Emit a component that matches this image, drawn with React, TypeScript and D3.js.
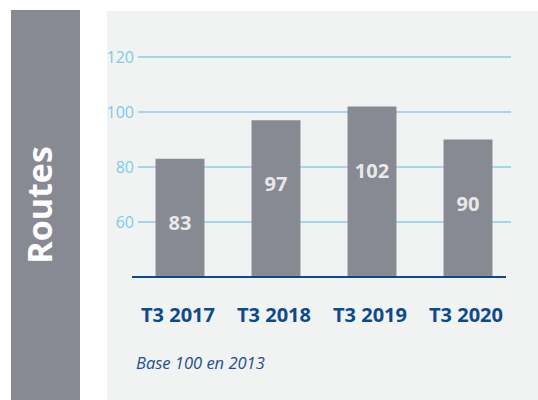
import React from "react";
import * as d3 from "d3";

const categories = ["T3 2017", "T3 2018", "T3 2019", "T3 2020"];
const values = [83, 97, 102, 90];
const ticks = [60, 80, 100, 120];

const W = 538, H = 400;
const FONT = "'Open Sans', 'DejaVu Sans', sans-serif";

export default function App() {
    const x = d3.scaleBand<string>()
        .domain(categories)
        .range([132, 516])
        .paddingInner(0.49)
        .paddingOuter(0.245);

    // 40 sits on the axis line
    const y = d3.scaleLinear().domain([40, 120]).range([277, 57]);

    return (
        <svg width={W} height={H} style={{ position: "absolute", left: 0, top: 0 }} fontFamily={FONT}>
            <rect x={0} y={0} width={W} height={H} fill="#ffffff" />
            <rect x={11} y={10} width={69} height={H - 10} fill="#878a93" />
            <text
                transform="translate(52,205) rotate(-90)"
                textAnchor="middle"
                fill="#ffffff"
                fontWeight={700}
                fontSize={34}
            >
                Routes
            </text>
            <rect x={107} y={11} width={W - 107} height={H - 11} fill="#f1f3f2" />

            {ticks.map(t => (
                <g key={t}>
                    <line x1={138} x2={511} y1={y(t)} y2={y(t)} stroke="#86cde9" strokeWidth={1.3} />
                    <text x={134} y={y(t)} dy="0.36em" textAnchor="end" fill="#7ccbe8" fontSize={16} fontWeight={400}>
                        {t}
                    </text>
                </g>
            ))}

            {categories.map((c, i) => (
                <g key={c}>
                    <rect x={x(c)} y={y(values[i])} width={x.bandwidth()} height={y(40) - y(values[i])} fill="#878a93" />
                    <text
                        x={x(c)! + x.bandwidth() / 2}
                        y={y(values[i]) + 71}
                        textAnchor="middle"
                        fill="#e9e9e9"
                        fontWeight={700}
                        fontSize={20}
                    >
                        {values[i]}
                    </text>
                    <text
                        x={x(c)! + x.bandwidth() / 2 - 2}
                        y={322}
                        textAnchor="middle"
                        fill="#0d4a8b"
                        fontWeight={700}
                        fontSize={20}
                    >
                        {c}
                    </text>
                </g>
            ))}

            <line x1={132} x2={506} y1={y(40)} y2={y(40)} stroke="#0d4a8b" strokeWidth={2.2} />

            <text x={136} y={369} fill="#1d5090" fontStyle="italic" fontSize={16.5}>
                Base 100 en 2013
            </text>
        </svg>
    );
}
